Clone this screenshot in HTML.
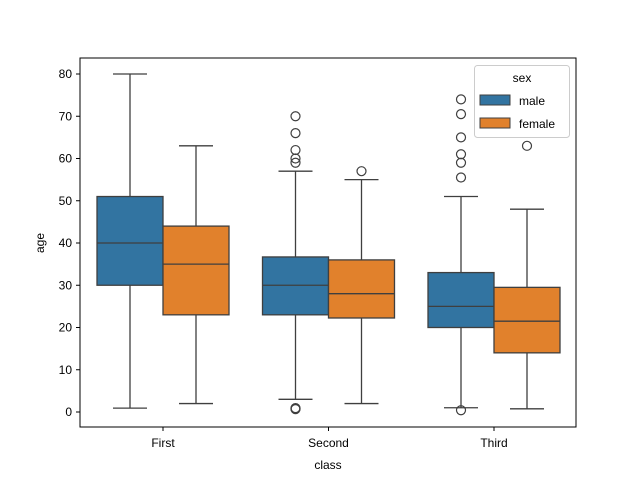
<!DOCTYPE html>
<html><head><meta charset="utf-8"><style>
body{margin:0;background:#fff}
text{font-family:"Liberation Sans",sans-serif;fill:#000}
</style></head><body>
<svg id="chart" width="640" height="480" xmlns="http://www.w3.org/2000/svg">
<rect x="80" y="58" width="496" height="369" fill="#fff"/>
<g id="marks"></g>
<g id="axes"></g>
<rect x="80" y="58" width="496" height="369" fill="none" stroke="#000" stroke-width="1"/>
<g>
<rect x="474.5" y="65.5" width="95" height="72" rx="3" fill="#fff" fill-opacity="0.8" stroke="#ccc"/>
<text x="522" y="82" font-size="12" text-anchor="middle">sex</text>
<rect x="480" y="95" width="30" height="10" fill="#3274a1" stroke="#3f3f3f"/>
<text x="519" y="105" font-size="12">male</text>
<rect x="480" y="118" width="30" height="10" fill="#e1812c" stroke="#3f3f3f"/>
<text x="519" y="128" font-size="12">female</text>
</g>
<text x="328" y="469" font-size="12" text-anchor="middle">class</text>
<text x="44" y="243" font-size="12" text-anchor="middle" transform="rotate(-90 44 243)">age</text>
</svg>
<script>
const categories=["First","Second","Third"];
const hues=["male","female"];
const q1=[[30,23],[23,22.25],[20,14]];
const med=[[40,35],[30,28],[25,21.5]];
const q3=[[51,44],[36.7,36],[33,29.5]];
const whiskLo=[[0.92,2],[3,2],[1,0.75]];
const whiskHi=[[80,63],[57,55],[51,48]];
const outliers=[[[],[]],[[70,66,62,60,59,0.67,0.83,0.92],[57]],[[74,70.5,65,61,59,55.5,0.42],[63]]];
const yTicks=[0,10,20,30,40,50,60,70,80];
const colors=["#3274a1","#e1812c"];
const NS="http://www.w3.org/2000/svg";
const y=v=>412-v*4.225;
const xc=i=>163+i*165.5;
function mk(tag,attrs,parent){const e=document.createElementNS(NS,tag);for(const k in attrs)e.setAttribute(k,attrs[k]);parent.appendChild(e);return e;}
const marks=document.getElementById('marks'),axes=document.getElementById('axes');
const bw=66;
categories.forEach((c,i)=>{
 hues.forEach((h,j)=>{
  const x0=xc(i)-bw+j*bw, cx=x0+bw/2;
  const g=mk('g',{},marks);
  
  
  const st={stroke:'#3f3f3f','stroke-width':1.3,fill:'none'};
  mk('line',Object.assign({x1:cx,x2:cx,y1:y(q1[i][j]),y2:y(whiskLo[i][j])},st),g);
  mk('line',Object.assign({x1:cx,x2:cx,y1:y(q3[i][j]),y2:y(whiskHi[i][j])},st),g);
  mk('line',Object.assign({x1:cx-17,x2:cx+17,y1:y(whiskLo[i][j]),y2:y(whiskLo[i][j])},st),g);
  mk('line',Object.assign({x1:cx-17,x2:cx+17,y1:y(whiskHi[i][j]),y2:y(whiskHi[i][j])},st),g);
  mk('rect',{x:x0,y:y(q3[i][j]),width:bw,height:y(q1[i][j])-y(q3[i][j]),fill:colors[j],stroke:'#3f3f3f','stroke-width':1.3},g);
  mk('line',Object.assign({x1:x0,x2:x0+bw,y1:y(med[i][j]),y2:y(med[i][j])},st),g);
  outliers[i][j].forEach(v=>{
   const o=mk('circle',{cx:cx,cy:y(v),r:4.5,fill:'none',stroke:'#3f3f3f','stroke-width':1.2},g);
   
   
  });
 });
 mk('line',{x1:xc(i),x2:xc(i),y1:427,y2:431,stroke:'#000'},axes);
 const t=mk('text',{x:xc(i),y:447,'font-size':12,'text-anchor':'middle'},axes);
 t.textContent=c;
 
 
});
yTicks.forEach(v=>{
 mk('line',{x1:76,x2:80,y1:y(v),y2:y(v),stroke:'#000'},axes);
 const t=mk('text',{x:72,y:y(v)+4,'font-size':12,'text-anchor':'end'},axes);
 t.textContent=v;
 
 
});
</script>
</body></html>
